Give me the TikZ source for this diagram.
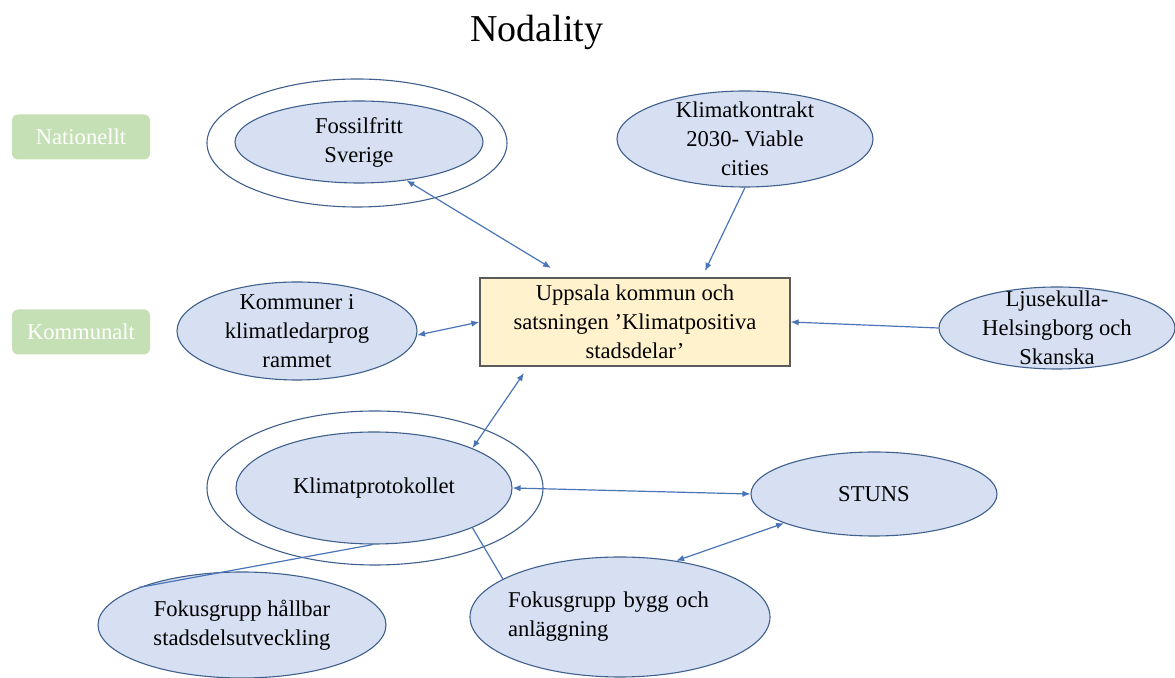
\documentclass[tikz,border=0pt]{standalone}
\usepackage{fontspec}
\setmainfont{Liberation Serif}
\usetikzlibrary{arrows.meta,shapes.geometric}

\definecolor{bubblefill}{HTML}{D6E0F2}
\definecolor{bubbleline}{HTML}{3F5F8C}
\definecolor{boxfill}{HTML}{FFF2CC}
\definecolor{boxline}{HTML}{5A5A5A}
\definecolor{levelgreen}{HTML}{C5E0B4}
\definecolor{linkblue}{HTML}{4A74B8}

\newcommand{\bodyfont}{\fontsize{11.3}{14.5}\selectfont}

\tikzset{
  bubble/.style={ellipse, draw=bubbleline, fill=bubblefill, line width=0.55pt,
    inner sep=-10pt, align=center, font=\bodyfont},
  ring/.style={ellipse, draw=bubbleline, line width=0.55pt, inner sep=0pt},
  level/.style={rectangle, rounded corners=3pt, fill=levelgreen, text=white,
    minimum width=69pt, minimum height=22.5pt, inner sep=0pt, font=\bodyfont},
  link/.style={draw=linkblue, line width=0.6pt},
  onehead/.style={link, -{Latex[length=4pt,width=3.2pt]}},
  twoheads/.style={link, {Latex[length=4pt,width=3.2pt]}-{Latex[length=4pt,width=3.2pt]}}
}

\begin{document}
\begin{tikzpicture}[x=0.5pt, y=-0.5pt]
\useasboundingbox (0,0) rectangle (1175,678);

% title
\node[anchor=base, font=\fontsize{19}{23}\selectfont] (title) at (537,42) {Nodality};

% levels
\node[level] (nat) at (81,137) {Nationellt};
\node[level] (kom) at (81,332) {Kommunalt};

% outer rings
\node[ring, minimum width=150pt, minimum height=64pt] (fossring) at (357,143) {};
\node[ring, minimum width=168pt, minimum height=77pt] (protoring) at (375,488) {};

% actors
\node[bubble, minimum width=124pt, minimum height=41pt] (foss) at (359,142) {Fossilfritt\\Sverige};
\node[bubble, minimum width=128pt, minimum height=48pt] (kontrakt) at (745,139) {Klimatkontrakt\\2030- Viable\\cities};
\node[bubble, minimum width=120pt, minimum height=49pt] (kommuner) at (297,331) {Kommuner i\\klimatledarprog\\rammet};
\node[bubble, minimum width=118pt, minimum height=41pt] (ljus) at (1057,328) {Ljusekulla-\\Helsingborg och\\Skanska};
\node[bubble, minimum width=138pt, minimum height=56pt] (proto) at (374,488) {Klimatprotokollet};
\node[bubble, minimum width=123pt, minimum height=42pt] (stuns) at (874,494) {STUNS};
\node[bubble, minimum width=150pt, minimum height=60pt, align=left, text width=112pt] (bygg) at (620,617) {Fokusgrupp bygg och\\anläggning};
\node[bubble, minimum width=144pt, minimum height=53pt] (hallbar) at (242,625) {Fokusgrupp hållbar\\stadsdelsutveckling};

% centre
\node[rectangle, draw=boxline, fill=boxfill, line width=0.6pt, minimum width=155pt,
  minimum height=44pt, inner sep=0pt, align=center, font=\bodyfont] (uppsala) at (635,322)
  {Uppsala kommun och\\satsningen ’Klimatpositiva\\stadsdelar’};

% loose arrow ends near the box
\coordinate (fossend) at (551,268);
\coordinate (kontraktend) at (705,271);
\coordinate (protoend) at (524,373);

% connectors
\draw[twoheads] (foss.-39) -- (fossend);
\draw[onehead] (kontrakt.south) -- (kontraktend);
\draw[onehead] (ljus.west) -- (uppsala.east);
\draw[twoheads] (kommuner.-2) -- (uppsala.west);
\draw[twoheads] (protoend) -- (proto.22);
\draw[twoheads] (proto.east) -- (stuns.west);
\draw[twoheads] (stuns.198) -- (bygg.45);
\draw[link] (proto.-22) -- (bygg.162);
\draw[link] (proto.-91) -- (hallbar.160);
\end{tikzpicture}
\end{document}
